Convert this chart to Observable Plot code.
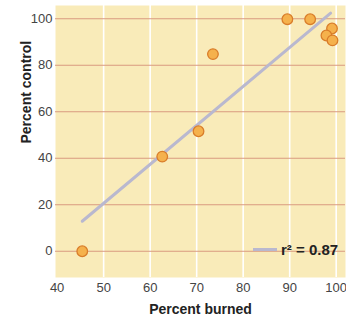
<!DOCTYPE html>
<html>
<head>
<meta charset="utf-8">
<script src="https://cdn.jsdelivr.net/npm/d3@7"></script>
<script src="https://cdn.jsdelivr.net/npm/@observablehq/plot@0.6"></script>
<style>
  html, body { margin: 0; padding: 0; background: #fff; }
  #wrap { position: relative; width: 346px; height: 321px; font-family: "Liberation Sans", Arial, sans-serif; }
  #legend { position: absolute; left: 253px; top: 241px; display: flex; align-items: center; font-weight: bold; font-size: 15px; color: #222; }
  #legend .sw { width: 24px; height: 3px; background: #b9b8cf; margin-right: 4px; }
</style>
</head>
<body>
<div id="wrap"></div>
<script>
const burned  = [45.4, 62.6, 70.4, 73.5, 89.5, 94.4, 99.1, 97.9, 99.2];
const control = [0, 40.7, 51.6, 84.8, 99.8, 99.8, 95.8, 92.8, 90.7];
const fitX = [45.4, 98.8];
const fitY = [12.9, 102.4];
const xTicks = [40, 50, 60, 70, 80, 90, 100];
const yTicks = [0, 20, 40, 60, 80, 100];
const vGrid = [50, 60, 70, 80, 90, 100];
const rSquared = "r² = 0.87";

const pts = burned.map((b, i) => ({b, c: control[i]}));
const fit = fitX.map((x, i) => ({x, y: fitY[i]}));

const chart = Plot.plot({
  width: 346,
  height: 321,
  marginLeft: 55,
  marginRight: 1,
  marginTop: 5,
  marginBottom: 44,
  style: {fontFamily: "Liberation Sans, Arial, sans-serif", fontSize: "13px", color: "#444", background: "#fff"},
  x: {domain: [39.65, 102], ticks: xTicks, tickSize: 0, tickPadding: 5, label: null},
  y: {domain: [-11.3, 105.7], ticks: yTicks, tickSize: 0, tickPadding: 3, label: null},
  marks: [
    Plot.frame({fill: "#f9ebb9", stroke: null}),
    Plot.ruleX(vGrid, {stroke: "#ffffff", strokeWidth: 1.6}),
    Plot.ruleY(yTicks, {stroke: "#d99a80", strokeWidth: 1.1}),
    Plot.line(fit, {x: "x", y: "y", stroke: "#b9b8cf", strokeWidth: 3}),
    Plot.dot(pts, {x: "b", y: "c", r: 5.3, fill: "#f5b14c", stroke: "#d97d2a", strokeWidth: 1.3}),
    Plot.text(["Percent burned"], {frameAnchor: "bottom", dy: 36, text: d => d, fontWeight: "bold", fontSize: 14, fill: "#222"}),
    Plot.text(["Percent control"], {frameAnchor: "left", dx: -29, dy: 2, rotate: -90, text: d => d, fontWeight: "bold", fontSize: 14, fill: "#222"})
  ]
});
const wrap = document.getElementById("wrap");
wrap.appendChild(chart);
const lg = document.createElement("div");
lg.id = "legend";
lg.innerHTML = '<span class="sw"></span><span></span>';
lg.lastChild.textContent = rSquared;
wrap.appendChild(lg);
</script>
</body>
</html>
